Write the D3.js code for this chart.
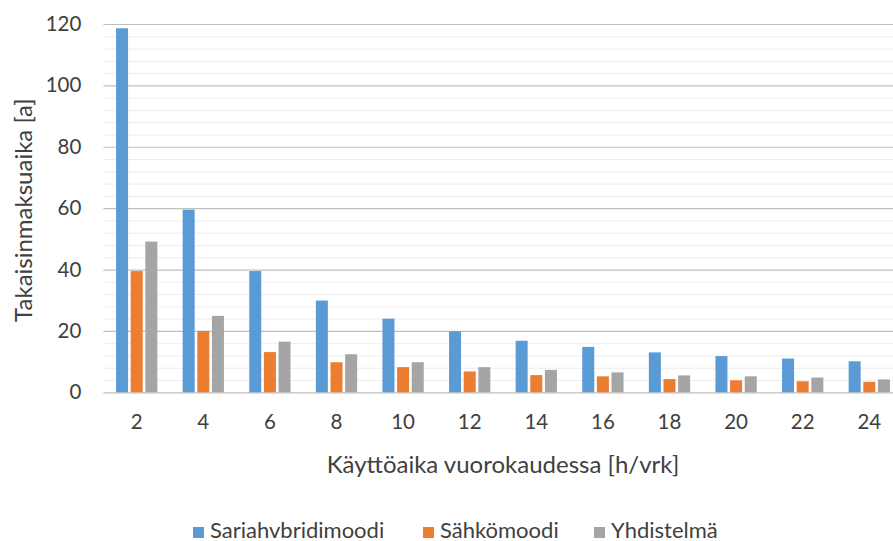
<!DOCTYPE html>
<html>
<head>
<meta charset="utf-8">
<script src="https://cdn.jsdelivr.net/npm/d3@7/dist/d3.min.js"></script>
<style>
  html, body { margin: 0; padding: 0; background: #fff; }
  svg { display: block; }
  text { font-family: Lato, "Open Sans", sans-serif; fill: #404040; }
</style>
</head>
<body>
<svg id="chart" width="893" height="541"></svg>
<script>
// Käyttöaika (h/vrk) ja takaisinmaksuajat vuosina kolmelle ajotavalle
const categories = [2, 4, 6, 8, 10, 12, 14, 16, 18, 20, 22, 24];
const sarjahybridi = [118.6, 59.5, 39.5, 29.9, 24.0, 19.9, 16.8, 14.8, 13.0, 11.8, 11.0, 10.1];
const sahko = [39.5, 20.0, 13.1, 9.8, 8.2, 6.8, 5.6, 5.2, 4.3, 3.9, 3.6, 3.4];
const yhdistelma = [49.1, 24.9, 16.5, 12.4, 9.8, 8.2, 7.3, 6.5, 5.5, 5.2, 4.8, 4.2];

const seriesNames = ["Sariahvbridimoodi", "Sähkömoodi", "Yhdistelmä"];
const seriesValues = [sarjahybridi, sahko, yhdistelma];
const colors = ["#5B9BD5", "#ED7D31", "#A5A5A5"];

const majorTicks = [0, 20, 40, 60, 80, 100, 120];
const minorTicks = d3.range(0, 121, 4).filter(v => v % 20 !== 0);

const svg = d3.select("#chart");

// plot area (right side runs past the visible edge)
const plotLeft = 103.4, plotRight = 902.6, plotTop = 24, plotBottom = 392.3;

const x0 = d3.scaleBand().domain(categories).range([plotLeft, plotRight]).padding(0);
const groupPad = 12.65;
const x1 = d3.scaleBand().domain(d3.range(3))
  .range([groupPad, x0.bandwidth() - groupPad]).paddingInner(0.18).paddingOuter(0);
const y = d3.scaleLinear().domain([0, 120]).range([plotBottom, plotTop]);

// minor gridlines
svg.append("g")
  .attr("transform", `translate(${plotLeft},0)`)
  .call(d3.axisLeft(y).tickValues(minorTicks).tickSize(-(plotRight - plotLeft)).tickFormat(""))
  .call(g => g.select(".domain").remove())
  .call(g => g.selectAll("line").attr("stroke", "#EDEDED").attr("stroke-width", 1));

// major gridlines
svg.append("g")
  .attr("transform", `translate(${plotLeft},0)`)
  .call(d3.axisLeft(y).tickValues(majorTicks).tickSize(-(plotRight - plotLeft)).tickFormat(""))
  .call(g => g.select(".domain").remove())
  .call(g => g.selectAll("line").attr("stroke", "#BFBFBF").attr("stroke-width", 1.2));

// y-axis labels
svg.append("g")
  .attr("transform", `translate(${plotLeft},0)`)
  .call(d3.axisLeft(y).tickValues(majorTicks).tickSize(0).tickPadding(22))
  .call(g => g.select(".domain").remove())
  .call(g => g.selectAll("text")
    .style("font-family", "Lato, sans-serif")
    .attr("font-size", 20.5).attr("fill", "#404040"));

// bars
const groups = svg.append("g").selectAll("g")
  .data(categories)
  .join("g")
  .attr("transform", d => `translate(${x0(d)},0)`);

groups.selectAll("rect")
  .data((d, i) => seriesValues.map((s, k) => ({ k, v: s[i] })))
  .join("rect")
  .attr("x", d => x1(d.k))
  .attr("width", x1.bandwidth())
  .attr("y", d => y(d.v))
  .attr("height", d => y(0) - y(d.v))
  .attr("fill", d => colors[d.k]);

// x-axis labels
svg.append("g")
  .attr("transform", `translate(0,${plotBottom})`)
  .call(d3.axisBottom(x0).tickSize(0).tickPadding(22))
  .call(g => g.select(".domain").remove())
  .call(g => g.selectAll("text")
    .style("font-family", "Lato, sans-serif")
    .attr("font-size", 20.5).attr("fill", "#404040"));

// axis titles
svg.append("text")
  .attr("x", (plotLeft + plotRight) / 2)
  .attr("y", 473)
  .attr("text-anchor", "middle")
  .attr("font-size", 24)
  .text("Käyttöaika vuorokaudessa [h/vrk]");

svg.append("text")
  .attr("transform", `translate(32,${(plotTop + plotBottom) / 2 + 2}) rotate(-90)`)
  .attr("text-anchor", "middle")
  .attr("font-size", 24)
  .text("Takaisinmaksuaika [a]");

// legend
const legendItems = [
  { name: seriesNames[0], color: colors[0], x: 193 },
  { name: seriesNames[1], color: colors[1], x: 423 },
  { name: seriesNames[2], color: colors[2], x: 594 }
];
const legend = svg.append("g").selectAll("g")
  .data(legendItems)
  .join("g")
  .attr("transform", d => `translate(${d.x},0)`);
legend.append("rect")
  .attr("x", 0).attr("y", 527)
  .attr("width", 11).attr("height", 11)
  .attr("fill", d => d.color);
legend.append("text")
  .attr("x", 17).attr("y", 538)
  .attr("font-size", 22)
  .text(d => d.name);
</script>
</body>
</html>
